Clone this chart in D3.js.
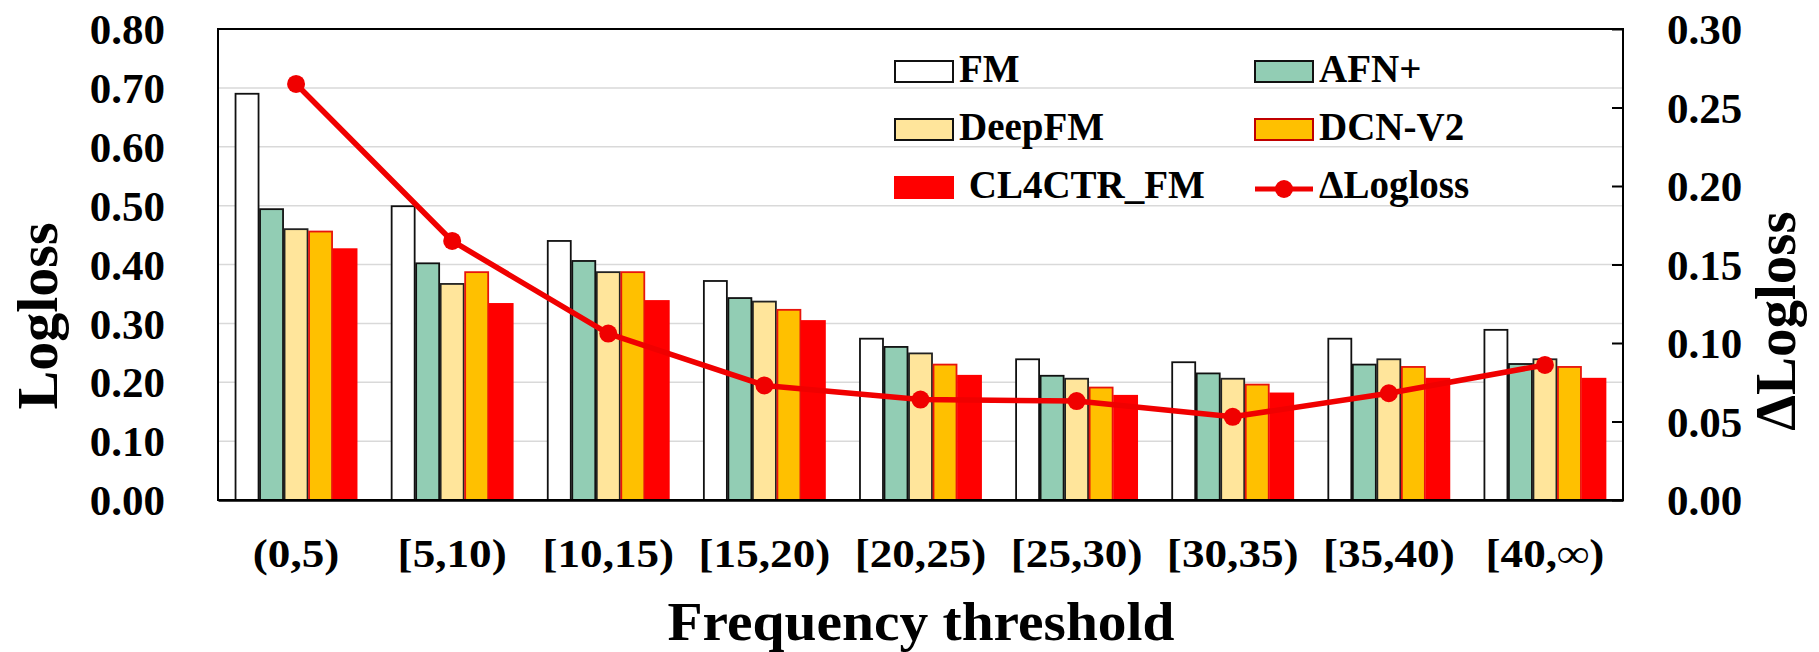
<!DOCTYPE html>
<html><head><meta charset="utf-8">
<script src="https://cdn.jsdelivr.net/npm/d3@7"></script>
<style>
html,body{margin:0;padding:0;background:#fff;}
text{font-family:"Liberation Serif","Times New Roman",serif;font-weight:bold;fill:#000;}
</style></head>
<body>
<svg id="chart" width="1819" height="652"></svg>
<script>
const categories = ["(0,5)","[5,10)","[10,15)","[15,20)","[20,25)","[25,30)","[30,35)","[35,40)","[40,\u221e)"];
const seriesNames = ["FM","AFN+","DeepFM","DCN-V2","CL4CTR_FM"];
const fmValues     = [0.690,0.499,0.440,0.372,0.274,0.239,0.234,0.274,0.289];
const afnValues    = [0.494,0.402,0.406,0.343,0.260,0.211,0.215,0.230,0.231];
const deepfmValues = [0.460,0.367,0.387,0.337,0.249,0.206,0.206,0.239,0.239];
const dcnValues    = [0.456,0.387,0.387,0.323,0.230,0.191,0.196,0.226,0.226];
const cl4Values    = [0.426,0.333,0.338,0.304,0.211,0.177,0.181,0.206,0.206];
const deltaValues  = [0.265,0.165,0.106,0.073,0.064,0.063,0.053,0.068,0.086];
const leftTicks  = [0,0.1,0.2,0.3,0.4,0.5,0.6,0.7,0.8];
const rightTicks = [0,0.05,0.1,0.15,0.2,0.25,0.3];

const seriesValues = [fmValues, afnValues, deepfmValues, dcnValues, cl4Values];
const fills   = ["#FFFFFF","#92CDB4","#FFE59B","#FFC000","#FF0000"];
const strokes = ["#111111","#111111","#222222","#E8140C","#FF0000"];
const lineColor = "#F00000";

const L = 218, R = 1623, T = 29, B = 500;
const svg = d3.select("#chart");

const x0 = d3.scaleBand().domain(categories).range([L, R]).paddingInner(0).paddingOuter(0);
const x1 = d3.scaleBand().domain(seriesNames).range([0, x0.bandwidth()]).paddingInner(0).paddingOuter(0.685);
const yL = d3.scaleLinear().domain([0, 0.8]).range([B, T]);
const yR = d3.scaleLinear().domain([0, 0.3]).range([B, T]);

// gridlines
svg.append("g").selectAll("line").data(leftTicks.filter(t => t > 0 && t < 0.8)).join("line")
  .attr("x1", L).attr("x2", R).attr("y1", d => yL(d)).attr("y2", d => yL(d))
  .attr("stroke", "#D9D9D9").attr("stroke-width", 1.5);

// bars
const groups = svg.append("g").selectAll("g").data(categories).join("g")
  .attr("transform", c => `translate(${x0(c)},0)`);
groups.selectAll("rect").data((c, i) => seriesNames.map((s, k) => ({s, k, v: seriesValues[k][i]}))).join("rect")
  .attr("x", d => x1(d.s) + 0.75).attr("width", x1.bandwidth() - 1.5)
  .attr("y", d => yL(d.v)).attr("height", d => B - yL(d.v))
  .attr("fill", d => fills[d.k]).attr("stroke", d => strokes[d.k]).attr("stroke-width", 1.8);

// frame
svg.append("rect").attr("x", L).attr("y", T).attr("width", R - L).attr("height", B - T)
  .attr("fill", "none").attr("stroke", "#000").attr("stroke-width", 2);

// left axis
const axL = svg.append("g").attr("transform", `translate(${L},0)`)
  .call(d3.axisLeft(yL).tickValues(leftTicks).tickFormat(d3.format(".2f")).tickSize(0).tickPadding(53));
axL.select(".domain").remove();
axL.selectAll("text").style("font-size", "43px").attr("dy", "0.34em");

// right axis
const axR = svg.append("g").attr("transform", `translate(${R},0)`)
  .call(d3.axisRight(yR).tickValues(rightTicks).tickFormat(d3.format(".2f")).tickSizeInner(-11).tickSizeOuter(0).tickPadding(44));
axR.select(".domain").remove();
axR.selectAll("line").attr("stroke", "#000").attr("stroke-width", 2);
axR.selectAll("text").style("font-size", "43px").attr("dy", "0.34em");

// bottom axis
const axB = svg.append("g").attr("transform", `translate(0,${B})`)
  .call(d3.axisBottom(x0).tickSize(0).tickPadding(39));
axB.select(".domain").attr("stroke", "#000").attr("stroke-width", 2.5);
axB.selectAll("text").style("font-size", "40px").attr("transform", "scale(1.13,1)");

// delta line
const cx = c => x0(c) + x0.bandwidth() / 2;
svg.append("path").datum(deltaValues)
  .attr("d", d3.line().x((d, i) => cx(categories[i])).y(d => yR(d)))
  .attr("fill", "none").attr("stroke", lineColor).attr("stroke-width", 5.5).attr("stroke-linejoin", "round");
svg.append("g").selectAll("circle").data(deltaValues).join("circle")
  .attr("cx", (d, i) => cx(categories[i])).attr("cy", d => yR(d)).attr("r", 9).attr("fill", lineColor);

// axis titles
svg.append("text").attr("transform", "translate(57,316) rotate(-90)").attr("text-anchor", "middle")
  .style("font-size", "58px").text("Logloss");
svg.append("text").attr("transform", "translate(1795,321) rotate(-90)").attr("text-anchor", "middle")
  .style("font-size", "57px").text("\u0394Logloss");
svg.append("text").attr("x", 921).attr("y", 640).attr("text-anchor", "middle")
  .style("font-size", "55px").attr("textLength", 507).attr("lengthAdjust", "spacingAndGlyphs").text("Frequency threshold");

// legend
const legendItems = [
  {name: "FM", k: 0, col: 0, row: 0},
  {name: "AFN+", k: 1, col: 1, row: 0},
  {name: "DeepFM", k: 2, col: 0, row: 1},
  {name: "DCN-V2", k: 3, col: 1, row: 1},
  {name: " CL4CTR_FM", k: 4, col: 0, row: 2},
  {name: "\u0394Logloss", k: -1, col: 1, row: 2}
];
const colX = [895, 1255], rowBase = [82, 140, 198];
const lg = svg.append("g").selectAll("g").data(legendItems).join("g")
  .attr("transform", d => `translate(${colX[d.col]},${rowBase[d.row]})`);
lg.filter(d => d.k >= 0).append("rect").attr("x", 0).attr("y", -21).attr("width", 58).attr("height", 21)
  .attr("fill", d => fills[d.k]).attr("stroke", d => d.k === 4 ? fills[4] : (d.k === 3 ? "#C00000" : "#111")).attr("stroke-width", 2);
lg.filter(d => d.k < 0).append("line").attr("x1", 0).attr("x2", 58).attr("y1", -9).attr("y2", -9)
  .attr("stroke", lineColor).attr("stroke-width", 5);
lg.filter(d => d.k < 0).append("circle").attr("cx", 29).attr("cy", -9).attr("r", 9).attr("fill", lineColor);
lg.append("text").attr("x", 64).attr("y", 0).style("font-size", "39px").style("white-space", "pre")
  .attr("xml:space", "preserve").text(d => d.name);
</script>
</body></html>
